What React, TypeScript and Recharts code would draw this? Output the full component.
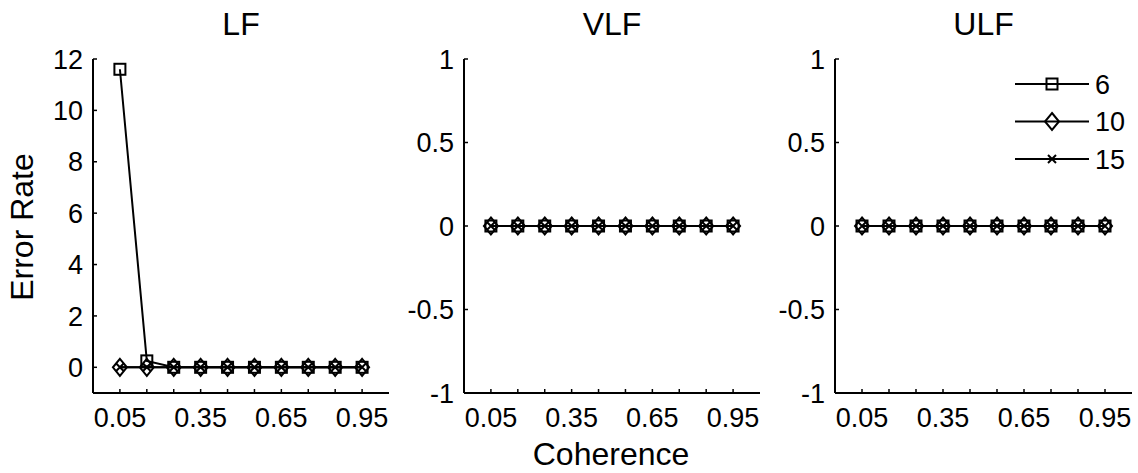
import React from 'react';
import { LineChart, Line, XAxis, YAxis, Legend } from 'recharts';

// coherence levels (x) and the three window sizes
const coherence = [0.05, 0.15, 0.25, 0.35, 0.45, 0.55, 0.65, 0.75, 0.85, 0.95];
const xLabelTicks = [0.05, 0.35, 0.65, 0.95];
const windowNames = ['6', '10', '15'];

// error rates per band
const lf6 = [11.6, 0.25, 0, 0, 0, 0, 0, 0, 0, 0];
const lf10 = [0, 0, 0, 0, 0, 0, 0, 0, 0, 0];
const lf15 = [0, 0, 0, 0, 0, 0, 0, 0, 0, 0];
const vlf6 = [0, 0, 0, 0, 0, 0, 0, 0, 0, 0];
const vlf10 = [0, 0, 0, 0, 0, 0, 0, 0, 0, 0];
const vlf15 = [0, 0, 0, 0, 0, 0, 0, 0, 0, 0];
const ulf6 = [0, 0, 0, 0, 0, 0, 0, 0, 0, 0];
const ulf10 = [0, 0, 0, 0, 0, 0, 0, 0, 0, 0];
const ulf15 = [0, 0, 0, 0, 0, 0, 0, 0, 0, 0];

const lfTicks = [0, 2, 4, 6, 8, 10, 12];
const unitTicks = [-1, -0.5, 0, 0.5, 1];

const FONT = 'Arial, "Liberation Sans", Helvetica, sans-serif';
const TICK_FONT = 27;

type MarkerKind = 'square' | 'diamond' | 'cross';
const markers: MarkerKind[] = ['square', 'diamond', 'cross'];

const Marker = ({ kind, cx, cy }: { kind: MarkerKind; cx: number; cy: number }) => {
  if (cx == null || cy == null) return null;
  if (kind === 'square') {
    return <rect x={cx - 5.5} y={cy - 5.5} width={11} height={11} fill="none" stroke="#000" strokeWidth={2} />;
  }
  if (kind === 'diamond') {
    return (
      <path
        d={`M${cx},${cy - 8.5}L${cx + 7},${cy}L${cx},${cy + 8.5}L${cx - 7},${cy}Z`}
        fill="none"
        stroke="#000"
        strokeWidth={2}
      />
    );
  }
  return (
    <path
      d={`M${cx - 4},${cy - 4}L${cx + 4},${cy + 4}M${cx - 4},${cy + 4}L${cx + 4},${cy - 4}`}
      stroke="#000"
      strokeWidth={2}
    />
  );
};

const buildRows = (a: number[], b: number[], c: number[]) =>
  coherence.map((x, i) => ({ c: x, s6: a[i], s10: b[i], s15: c[i] }));

const panels = [
  { title: 'LF', rows: buildRows(lf6, lf10, lf15), domain: [-1, 12], ticks: lfTicks, left: 0, width: 400, mLeft: 33, mRight: 11 },
  { title: 'VLF', rows: buildRows(vlf6, vlf10, vlf15), domain: [-1, 1], ticks: unitTicks, left: 380, width: 390, mLeft: 24, mRight: 10 },
  { title: 'ULF', rows: buildRows(ulf6, ulf10, ulf15), domain: [-1, 1], ticks: unitTicks, left: 752, width: 386, mLeft: 23, mRight: 6, legend: true },
];

const LegendBox = () => (
  <svg width={130} height={115} style={{ overflow: 'visible' }}>
    {windowNames.map((name, i) => {
      const y = 22 + i * 37.5;
      return (
        <g key={name}>
          <line x1={5} x2={79} y1={y} y2={y} stroke="#000" strokeWidth={2} />
          <Marker kind={markers[i]} cx={42} cy={y} />
          <text x={85} y={y + 9.6} fontSize={TICK_FONT} fontFamily={FONT} fill="#000">
            {name}
          </text>
        </g>
      );
    })}
  </svg>
);

const Panel = ({ p }: { p: (typeof panels)[number] }) => (
  <div style={{ position: 'absolute', left: p.left, top: 0 }}>
    <LineChart
      width={p.width}
      height={473}
      data={p.rows}
      margin={{ top: 59, right: p.mRight, bottom: 50, left: p.mLeft }}
      style={{ fontFamily: FONT }}
    >
      <XAxis
        dataKey="c"
        type="number"
        domain={[-0.05, 1.05]}
        ticks={coherence}
        interval={0}
        tickFormatter={(v: number) => (xLabelTicks.some((t) => Math.abs(t - v) < 1e-6) ? String(v) : '')}
        axisLine={{ stroke: '#000', strokeWidth: 2 }}
        tickLine={{ stroke: '#000', strokeWidth: 1.5 }}
        tickSize={-4}
        tickMargin={19}
        tick={{ fill: '#000', fontSize: TICK_FONT }}
        height={30}
      />
      <YAxis
        type="number"
        domain={p.domain}
        ticks={p.ticks}
        interval={0}
        axisLine={{ stroke: '#000', strokeWidth: 2 }}
        tickLine={{ stroke: '#000', strokeWidth: 1.5 }}
        tickSize={-4}
        tickMargin={14}
        tick={{ fill: '#000', fontSize: TICK_FONT }}
        width={60}
      />
      {p.legend && (
        <Legend
          layout="horizontal"
          verticalAlign="middle"
          align="center"
          content={() => <LegendBox />}
          wrapperStyle={{ left: 1010 - p.left, top: 62, width: 130, height: 115 }}
        />
      )}
      {(['s6', 's10', 's15'] as const).map((key, i) => (
        <Line
          key={key}
          dataKey={key}
          name={windowNames[i]}
          type="linear"
          stroke="#000"
          strokeWidth={2}
          isAnimationActive={false}
          activeDot={false}
          dot={(d: any) => <Marker key={`${key}-${d.index}`} kind={markers[i]} cx={d.cx} cy={d.cy} />}
        />
      ))}
    </LineChart>
  </div>
);

export default function App() {
  return (
    <div style={{ position: 'absolute', left: 0, top: 0, width: 1138, height: 473, background: '#fff' }}>
      {panels.map((p) => (
        <Panel key={p.title} p={p} />
      ))}
      <svg
        width={1138}
        height={473}
        style={{ position: 'absolute', left: 0, top: 0, pointerEvents: 'none' }}
        fontFamily={FONT}
      >
        <text x={241} y={35} fontSize={32} textAnchor="middle" fill="#000">LF</text>
        <text x={612} y={35} fontSize={32} textAnchor="middle" fill="#000">VLF</text>
        <text x={983.5} y={35} fontSize={32} textAnchor="middle" fill="#000">ULF</text>
        <text x={611} y={465} fontSize={32} textAnchor="middle" fill="#000">Coherence</text>
        <text x={33} y={227} fontSize={32} textAnchor="middle" fill="#000" transform="rotate(-90 33 227)">
          Error Rate
        </text>
      </svg>
    </div>
  );
}
